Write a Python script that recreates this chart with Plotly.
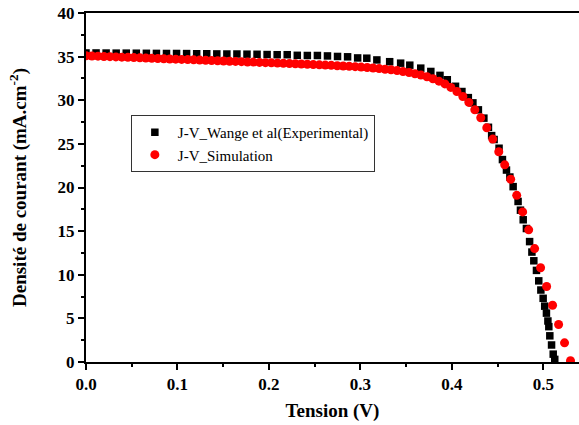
import plotly.graph_objects as go

# Experimental J-V points (Wange et al.)
exp_v = [0.000, 0.011, 0.022, 0.033, 0.044, 0.055, 0.066, 0.077, 0.088, 0.099,
         0.110, 0.121, 0.132, 0.143, 0.154, 0.165, 0.176, 0.187, 0.198, 0.209,
         0.220, 0.231, 0.242, 0.253, 0.264, 0.275, 0.286, 0.297, 0.307, 0.318,
         0.332, 0.344, 0.354, 0.366, 0.377, 0.387, 0.395, 0.404, 0.411, 0.418,
         0.423, 0.429, 0.435, 0.440, 0.4435, 0.4462, 0.4516, 0.4553, 0.4597, 0.4634,
         0.467, 0.4724, 0.475, 0.478, 0.4815, 0.4850, 0.4875, 0.4896, 0.4925, 0.495,
         0.4973, 0.4998, 0.5015, 0.5034, 0.505, 0.506, 0.5071, 0.509, 0.5108, 0.5125]
exp_j = [35.42, 35.42, 35.41, 35.40, 35.40, 35.39, 35.38, 35.37, 35.36, 35.36,
         35.35, 35.33, 35.33, 35.31, 35.30, 35.30, 35.28, 35.27, 35.24, 35.22,
         35.22, 35.15, 35.13, 35.13, 35.08, 35.02, 34.98, 34.85, 34.82, 34.62,
         34.42, 34.25, 34.02, 33.68, 33.30, 32.85, 32.35, 31.60, 31.00, 30.30,
         29.70, 28.90, 27.95, 26.90, 25.95, 25.50, 24.50, 23.20, 22.00, 21.20,
         20.10, 18.40, 17.40, 16.30, 15.30, 13.80, 12.60, 11.60, 10.50, 9.30,
         8.25, 7.30, 6.40, 5.60, 4.70, 4.05, 3.00, 1.95, 0.90, 0.30]

# Simulated J-V curve
sim_v = [0.0000, 0.0065, 0.0131, 0.0196, 0.0262, 0.0327, 0.0392, 0.0458, 0.0523, 0.0589,
         0.0654, 0.0719, 0.0785, 0.0850, 0.0916, 0.0981, 0.1046, 0.1112, 0.1177, 0.1243,
         0.1308, 0.1373, 0.1439, 0.1504, 0.1570, 0.1635, 0.1700, 0.1766, 0.1831, 0.1897,
         0.1962, 0.2027, 0.2093, 0.2158, 0.2224, 0.2289, 0.2354, 0.2420, 0.2485, 0.2551,
         0.2616, 0.2681, 0.2747, 0.2812, 0.2878, 0.2943, 0.3008, 0.3074, 0.3139, 0.3205,
         0.3270, 0.3335, 0.3401, 0.3466, 0.3532, 0.3597, 0.3662, 0.3728, 0.3793, 0.3859,
         0.3924, 0.3989, 0.4055, 0.4120, 0.4186, 0.4251, 0.4316, 0.4382, 0.4447, 0.4513,
         0.4578, 0.4643, 0.4709, 0.4774, 0.4840, 0.4905, 0.4970, 0.5036, 0.5101, 0.5167,
         0.5232, 0.5297]
sim_j = [35.10, 35.07, 35.05, 35.02, 35.00, 34.97, 34.94, 34.92, 34.89, 34.86,
         34.84, 34.81, 34.79, 34.76, 34.73, 34.71, 34.68, 34.66, 34.63, 34.60,
         34.58, 34.55, 34.52, 34.50, 34.47, 34.45, 34.42, 34.39, 34.37, 34.34,
         34.31, 34.29, 34.26, 34.23, 34.20, 34.18, 34.15, 34.12, 34.09, 34.06,
         34.03, 34.00, 33.96, 33.93, 33.89, 33.85, 33.80, 33.75, 33.70, 33.63,
         33.55, 33.49, 33.40, 33.29, 33.18, 33.04, 32.88, 32.69, 32.46, 32.19,
         31.87, 31.47, 31.00, 30.43, 29.75, 28.91, 28.00, 26.85, 25.55, 24.10,
         22.60, 20.95, 19.10, 17.20, 15.15, 13.00, 10.80, 8.65, 6.50, 4.30,
         2.20, 0.15]

serif = "Liberation Serif"

fig = go.Figure()
fig.add_trace(go.Scatter(
    x=exp_v, y=exp_j, mode="markers",
    name="J-V_Wange et al(Experimental)",
    marker=dict(symbol="square", size=7.5, color="black", line=dict(width=0)),
))
fig.add_trace(go.Scatter(
    x=sim_v, y=sim_j, mode="markers",
    name="J-V_Simulation",
    marker=dict(symbol="circle", size=9, color="#ff0000", line=dict(width=0)),
))

tickfont = dict(family=serif, size=17, color="black", weight="bold")
titlefont = dict(family=serif, size=19, color="black", weight="bold")

fig.update_layout(
    width=579, height=425,
    margin=dict(l=86, r=0, t=13, b=63),
    paper_bgcolor="white", plot_bgcolor="white",
    showlegend=True,
    legend=dict(
        x=0.091, y=0.708, xanchor="left", yanchor="top",
        bgcolor="white", bordercolor="#333333", borderwidth=1,
        font=dict(family=serif, size=15, color="black"),
        itemwidth=36, tracegroupgap=0,
    ),
    xaxis=dict(
        range=[0, 0.539], dtick=0.1, tick0=0, tickformat=".1f",
        showgrid=False, zeroline=False,
        showline=True, linecolor="black", linewidth=2, mirror=True,
        ticks="outside", ticklen=6, tickwidth=1.5, tickcolor="black",
        minor=dict(dtick=0.05, ticks="outside", ticklen=3, tickwidth=1.5, tickcolor="black"),
        tickfont=tickfont,
        title=dict(text="Tension (V)", standoff=10, font=titlefont),
    ),
    xaxis2=dict(
        range=[0, 0.539], dtick=0.1, tick0=0, overlaying="x", side="top",
        showgrid=False, zeroline=False, showticklabels=False, showline=False,
        ticks="inside", ticklen=6, tickwidth=1.5, tickcolor="black",
        minor=dict(dtick=0.05, ticks="inside", ticklen=3, tickwidth=1.5, tickcolor="black"),
    ),
    yaxis=dict(
        range=[0, 40], dtick=5, tick0=0,
        showgrid=False, zeroline=False,
        showline=True, linecolor="black", linewidth=2, mirror=False,
        ticks="outside", ticklen=6, tickwidth=1.5, tickcolor="black",
        minor=dict(dtick=2.5, ticks="outside", ticklen=3, tickwidth=1.5, tickcolor="black"),
        tickfont=tickfont,
        title=dict(text="Densité de courant (mA.cm<sup>-2</sup>)", standoff=26, font=titlefont),
    ),
)

fig.write_html("out.html", config={"displayModeBar": False})
